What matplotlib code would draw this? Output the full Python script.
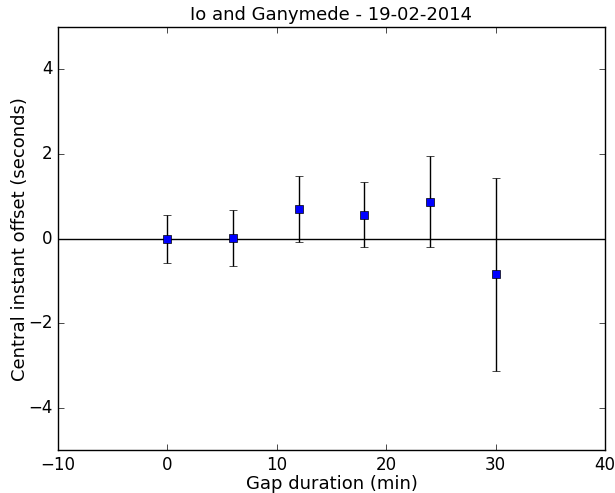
import matplotlib
matplotlib.use("Agg")
import matplotlib.pyplot as plt

plt.style.use("classic")

gap_min = [0, 6, 12, 18, 24, 30]
offset_s = [-0.01, 0.01, 0.69, 0.57, 0.87, -0.84]
offset_err = [0.57, 0.66, 0.78, 0.77, 1.08, 2.28]

fig = plt.figure(figsize=(6.15, 4.93), dpi=100, facecolor="white")
ax = fig.add_axes([0.094, 0.087, 0.890, 0.858])

ax.axhline(0, color="k", linewidth=1)
ax.errorbar(gap_min, offset_s, yerr=offset_err, fmt="s", color="blue",
            ecolor="k", markersize=6, capsize=3, elinewidth=1)

ax.set_xlim(-10, 40)
ax.set_ylim(-5, 5)
ax.set_xticks([-10, 0, 10, 20, 30, 40])
ax.set_yticks([-4, -2, 0, 2, 4])
ax.set_xlabel("Gap duration (min)", fontsize=13, labelpad=1)
ax.set_ylabel("Central instant offset (seconds)", fontsize=13, labelpad=-1)
ax.set_title("Io and Ganymede - 19-02-2014", fontsize=13)

fig.savefig("out.png", dpi=100, facecolor="white")
